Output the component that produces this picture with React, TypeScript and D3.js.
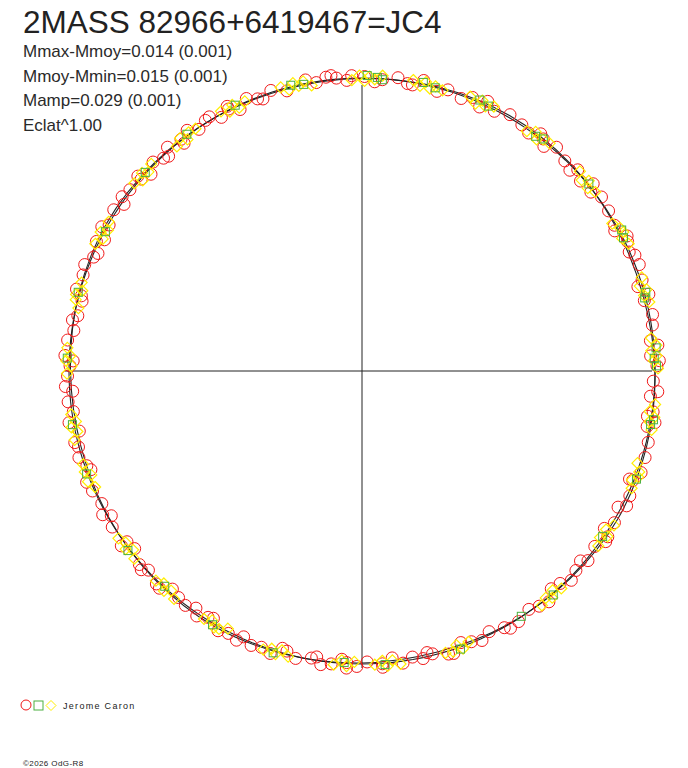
import * as d3 from 'd3'

// phase in degrees (0 = top, clockwise), residual in mmag (positive = outward)
const redObs: [number, number][] = [
  [0.5, 3], [4, -2], [7, 5], [9, -4], [17, 2], [20, -6], [22, 4], [27, -3], [30, 6], [33, 1],
  [35, -5], [38, 3], [41, 7], [44, -2], [47, 4], [52, -5], [54, 6], [57, 2], [60, -3], [64, 5],
  [66, -1], [69, 8], [72, 3], [76, -4], [79, 6], [81, 2], [84, -6], [89, 4], [92, -3], [94, 7],
  [98, 2], [101, -5], [104, 4], [107, 6], [112, -2], [115, 5], [118, -6], [121, 3], [124, 7], [127, -3],
  [130, 4], [133, -1], [135, 6], [137, -5], [143, 3], [145, -4], [148, 5], [151, 1], [154, -6], [156, 4],
  [158, -2], [163, 6], [166, -3], [168, 2], [170, -5], [172, 4], [176, 1], [179, -4], [181, 5], [183, -2],
  [186, 3], [188, 7], [190, -3], [193, 4], [195, -6], [200, 2], [202, 6], [204, -4], [207, 3], [212, -5],
  [214, 5], [217, 1], [219, -3], [224, 6], [227, -2], [229, 4], [234, -5], [238, 3], [241, 7], [243, -2],
  [246, 4], [251, -4], [253, 6], [255, 1], [262, -3], [264, 5], [266, -6], [269, 3], [271, -2], [276, 6],
  [278, -4], [280, 2], [285, -5], [289, 4], [291, 8], [293, -3], [296, 5], [300, -2], [303, 6], [305, -5],
  [308, 3], [311, -1], [315, 5], [317, -4], [319, 7], [322, 2], [326, -3], [328, 5], [331, -6], [333, 2],
  [337, 6], [339, -3], [342, 4], [351, -2], [353, 6], [355, 2], [357, -4],
  [345, -6], [349, 7], [358, 5], [2.5, -7], [12, 8], [15, -7], [24, -8], [25, 9], [37, 8], [39, -8],
  [49, -7], [51, 9], [61, -8], [63, 9], [73, -9], [75, 8], [85, 8], [87, -8], [88, 9], [99, -8],
  [100, 9], [110, 8], [112, -9], [123, -8], [125, 9], [139, -9], [141, 8], [160, -8], [162, 8], [174, -9],
  [176, 8], [183, 9], [184, -8], [196, -9], [198, 8], [209, 8], [211, -9], [221, -8], [223, 8], [232, -9],
  [234, 9], [248, 8], [250, -9], [258, -8], [260, 9], [272, -8], [273, 9], [284, -9], [286, 8], [297, -8],
  [299, 9], [311, 8], [313, -9], [322, -8], [324, 9], [333, 8], [335, -9], [10, -5], [46, -8], [67, 7],
  [95, -7], [117, 8], [131, -7], [150, 8], [167, -8], [189, -7], [205, 8], [215, -7], [228, 8], [240, -7],
  [256, 6], [267, 8], [281, -7], [294, -8], [306, 7], [318, -8], [329, 7], [340, -7], [354, 8],
]

const yellowObs: [number, number][] = [
  [344, 4], [345.5, -5], [346.5, 6], [347.5, -2], [348.5, 5], [350, -6],
  [358, -4], [359.5, 5], [0.5, -6], [1.5, 3], [2.5, -2], [4, 6],
  [10, 5], [11.5, -4], [12.5, 6], [13.5, -5], [14.5, 2], [16, -2],
  [21.5, 4], [23, -5], [24, 6], [25, -2], [26.5, 5],
  [34.5, -4], [36, 5], [37, -6], [38, 2], [39.5, 4],
  [47.5, 5], [49, -4], [50, 6], [51, -5], [52.5, 2],
  [59.5, -5], [61, 4], [62, 6], [63, -2], [64.5, 5],
  [71.5, 4], [73, -5], [74, 6], [75, -2], [76.5, 5],
  [83.5, -4], [85, 5], [86, -6], [87, 4], [88, -2], [89.5, 6],
  [96.5, 4], [98, -5], [99, 6], [100, -2], [101.5, 5],
  [108.5, -5], [110, 4], [111, 6], [112, -4], [113.5, 2],
  [121.5, 5], [123, -4], [124, 6], [125, -5], [126.5, 2],
  [137.5, 4], [139, -5], [140, 6], [141, -2], [142.5, 5],
  [158.5, -4], [160, 5], [161, -6], [162, 4], [163.5, 2],
  [172.5, 5], [174, -4], [175, 6], [176, -5], [177.5, 2],
  [181.5, -4], [183, 5], [184, -6], [185.5, 4],
  [194.5, 4], [196, -5], [197, 6], [198, -2], [199.5, 5],
  [207.5, -5], [209, 4], [210, 6], [211, -4], [212.5, 2],
  [219.5, 5], [221, -4], [222, 6], [223, -5], [224.5, 2],
  [230.5, 4], [232, -5], [233, 6], [234, -2], [235.5, 5],
  [246.5, -4], [248, 5], [249, -6], [250, 4], [251.5, 2],
  [256.5, 5], [258, -4], [259, 6], [260, -5], [261.5, 2],
  [269.5, 4], [271, -5], [272, 6], [273, -2], [274.5, 5],
  [282.5, -5], [284, 4], [285, 6], [286, -4], [287.5, 2],
  [295.5, 5], [297, -4], [298, 6], [299, -5], [300.5, 2],
  [309.5, 4], [311, -5], [312, 6], [313, -2], [314.5, 5],
  [320.5, -4], [322, 5], [323, -6], [324, 4], [325.5, 2],
  [331.5, 5], [333, -4], [334, 6], [335, -5], [336.5, 2],
]

const greenObs: [number, number][] = [
  [346, 3], [348.5, -1], [1, 5], [3, 2], [4, -2], [12, 4], [14.5, -1], [23.5, 5], [25.5, 1], [36.5, -2],
  [38, 3], [50.5, 2], [61.5, 5], [63, 1], [74.5, 3], [75.5, -2], [85.5, 4], [87.5, -1], [89, 3], [99.5, 5],
  [100.5, 1], [111.5, 4], [124.5, -2], [139.5, 3], [147, -1], [160.5, 4], [175.5, 3], [183.5, -2], [197.5, 5], [210.5, 3],
  [222.5, -2], [232.5, 4], [249.5, 2], [259.5, 3], [272.5, 4], [285.5, 3], [298.5, -2], [312.5, 2], [323.5, 3], [334.5, 3],
]

// fitted light curve, mmag every 15 deg of phase
const fitMag = [-1, 2, 4, 2, -2, -4, 0, 3, 5, 2, -1, -4, -2, 1, 4, 2, -1, -4, -3, 1, 4, 2, 0, -2]

const title = '2MASS 82966+6419467=JC4'
const stats = ['Mmax-Mmoy=0.014 (0.001)', 'Mmoy-Mmin=0.015 (0.001)', 'Mamp=0.029 (0.001)', 'Eclat^1.00']
const observer = 'Jerome Caron'
const credit = '©2026 OdG-R8'

const W = 688
const H = 768
const cx = 362
const cy = 371
const R = 293
const font = 'Arial, "Liberation Sans", sans-serif'
const RED = '#f01818'
const GREEN = '#4cb040'
const YELLOW = '#ffee00'

const angle = d3.scaleLinear([0, 360], [0, 2 * Math.PI])
const radius = d3.scaleLinear([-10, 10], [R - 5, R + 5])

function pos(ph: number, m: number): [number, number] {
  const a = angle(ph)
  const r = radius(m)
  return [cx + r * Math.sin(a), cy - r * Math.cos(a)]
}

function diamond(x: number, y: number, s: number) {
  return `M${x},${y - s}L${x + s},${y}L${x},${y + s}L${x - s},${y}Z`
}

export default function App() {
  const fitLine = d3
    .lineRadial<number>()
    .angle((_, i) => angle(i * 15))
    .radius((d) => radius(d))
    .curve(d3.curveCardinalClosed)
  const circle = d3
    .lineRadial<number>()
    .angle((d) => angle(d))
    .radius(radius(0))
    .curve(d3.curveLinearClosed)

  return (
    <svg
      width={W}
      height={H}
      style={{ position: 'absolute', left: 0, top: 0, background: '#fff' }}
      fontFamily={font}
    >
      <text x={23} y={33} fontSize={31.5} fill="#222">{title}</text>
      {stats.map((s, i) => (
        <text key={i} x={23} y={57 + i * 24.6} fontSize={17} fill="#2a2a2a">{s}</text>
      ))}

      <line x1={cx - 297} x2={cx + 290} y1={cy} y2={cy} stroke="#222" strokeWidth={1} />
      <line x1={cx} x2={cx} y1={cy - 286} y2={cy + 297} stroke="#222" strokeWidth={1} />

      <g transform={`translate(${cx},${cy})`} fill="none" stroke="#222" strokeWidth={1.1}>
        <path d={circle(d3.range(0, 360, 2)) || undefined} />
        <path d={fitLine(fitMag) || undefined} />
      </g>

      <g fill="none" strokeWidth={1}>
        {redObs.map(([p, m], i) => {
          const [x, y] = pos(p, m)
          return <circle key={'r' + i} cx={x} cy={y} r={6} stroke={RED} />
        })}
        {yellowObs.map(([p, m], i) => {
          const [x, y] = pos(p, m)
          return <path key={'y' + i} d={diamond(x, y, 5.5)} stroke={YELLOW} strokeWidth={1.2} />
        })}
        {greenObs.map(([p, m], i) => {
          const [x, y] = pos(p, m)
          return <rect key={'g' + i} x={x - 4} y={y - 4} width={8} height={8} stroke={GREEN} />
        })}
      </g>

      <g fill="none" strokeWidth={1}>
        <circle cx={26} cy={705} r={5} stroke={RED} />
        <rect x={34} y={701} width={9} height={9} stroke={GREEN} />
        <path d={diamond(51, 705.5, 5)} stroke={YELLOW} />
      </g>
      <text x={63} y={709} fontSize={9} letterSpacing={1.3} fill="#222">{observer}</text>
      <text x={23} y={766} fontSize={8} letterSpacing={0.4} fill="#222">{credit}</text>
    </svg>
  )
}
